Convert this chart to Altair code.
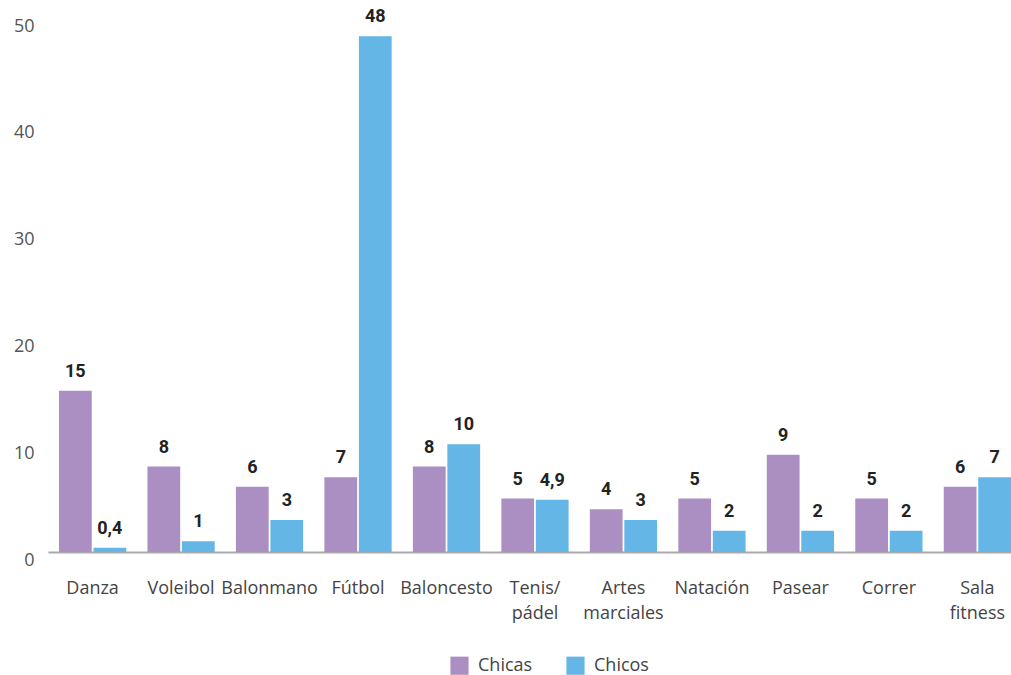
import altair as alt
import pandas as pd

categories = ["Danza", "Voleibol", "Balonmano", "Fútbol", "Baloncesto",
              "Tenis/\npádel", "Artes\nmarciales", "Natación", "Pasear", "Correr", "Sala\nfitness"]
chicas = [15.1, 8.0, 6.1, 7.0, 8.0, 5.0, 4.0, 5.0, 9.1, 5.0, 6.1]
chicos = [0.4, 1.0, 3.0, 48.3, 10.1, 4.9, 3.0, 2.0, 2.0, 2.0, 7.0]
chicas_lbl = ["15", "8", "6", "7", "8", "5", "4", "5", "9", "5", "6"]
chicos_lbl = ["0,4", "1", "3", "48", "10", "4,9", "3", "2", "2", "2", "7"]
series = ["Chicas", "Chicos"]
colors = ["#AB8FC3", "#63B6E5"]

rows = []
for i, c in enumerate(categories):
    rows.append({"cat": c, "serie": "Chicas", "v": chicas[i], "lbl": chicas_lbl[i]})
    rows.append({"cat": c, "serie": "Chicos", "v": chicos[i], "lbl": chicos_lbl[i]})
df = pd.DataFrame(rows)

FONT = "Roboto"
LFONT = "Open Sans"

x = alt.X("cat:N", sort=categories, title=None,
          scale=alt.Scale(paddingInner=0.24, paddingOuter=0.062, align=1),
          axis=alt.Axis(labelAngle=0, labelExpr="split(datum.label, '\\n')",
                        labelFontSize=18, labelColor="#444444", labelFont=LFONT,
                        labelPadding=36, labelLineHeight=25, ticks=False,
                        domainColor="#AAAAAA", domainWidth=2, labelBaseline="middle"))
xo = alt.XOffset("serie:N", sort=series, scale=alt.Scale(paddingInner=0.05))
y = alt.Y("v:Q", title=None, scale=alt.Scale(domain=[0, 50], nice=False),
          axis=alt.Axis(values=[0, 10, 20, 30, 40, 50], grid=False, ticks=False, domain=False,
                        labelFontSize=18, labelColor="#555555", labelFont=LFONT,
                        labelPadding=14, labelOffset=8))
color = alt.Color("serie:N", sort=series, scale=alt.Scale(domain=series, range=colors),
                  legend=alt.Legend(title=None, orient="none", legendX=402, legendY=638,
                                    direction="horizontal", symbolType="square", symbolSize=330,
                                    symbolStrokeWidth=0, labelFontSize=18, labelFont=LFONT,
                                    labelColor="#444444", columnPadding=33, labelOffset=9))

bars = alt.Chart(df).mark_bar().encode(x=x, xOffset=xo, y=y, color=color)
text = alt.Chart(df).mark_text(baseline="bottom", dy=-10, fontSize=18, fontWeight="bold",
                               font=FONT, color="#222222").encode(
    x=alt.X("cat:N", sort=categories), xOffset=alt.XOffset("serie:N", sort=series),
    y="v:Q", text="lbl:N")

chart = alt.layer(bars, text).properties(
    width=963, height=534,
    autosize=alt.AutoSizeParams(type="none"),
    padding={"left": 48, "top": 18, "right": 0, "bottom": 123},
).configure_view(stroke=None)

chart.save("out.html", embed_options={"renderer": "svg", "actions": False})
